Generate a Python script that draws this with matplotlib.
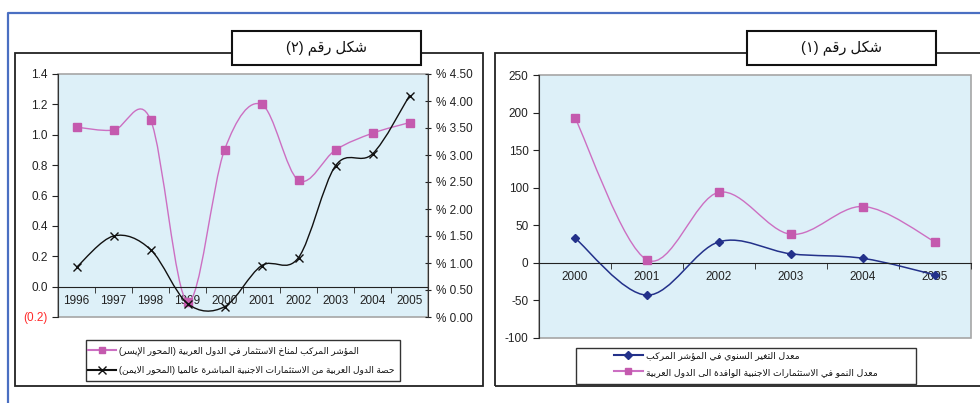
import numpy as np
import matplotlib.pyplot as plt
from matplotlib.path import Path
from matplotlib.patches import PathPatch, Rectangle
from matplotlib.lines import Line2D

plt.rcParams['font.family'] = ['Liberation Sans', 'DejaVu Sans']

# --- figure 2 (left panel) ---
years_2 = ['1996', '1997', '1998', '1999', '2000', '2001', '2002', '2003', '2004', '2005']
climate_index = [1.05, 1.03, 1.10, -0.10, 0.90, 1.20, 0.70, 0.90, 1.01, 1.08]
fdi_share = [0.92, 1.50, 1.25, 0.25, 0.19, 0.95, 1.10, 2.80, 3.02, 4.10]
index_ticks = [-0.2, 0.0, 0.2, 0.4, 0.6, 0.8, 1.0, 1.2, 1.4]
share_ticks = [0.0, 0.5, 1.0, 1.5, 2.0, 2.5, 3.0, 3.5, 4.0, 4.5]

# --- figure 1 (right panel) ---
years_1 = ['2000', '2001', '2002', '2003', '2004', '2005']
index_change = [33, -43, 28, 12, 6, -16]
fdi_growth = [193, 4, 94, 38, 75, 28]
growth_ticks = [-100, -50, 0, 50, 100, 150, 200, 250]

title_2 = 'شكل رقم (٢)'
title_1 = 'شكل رقم (١)'
legend_2 = ['المؤشر المركب لمناخ الاستثمار في الدول العربية (المحور الإيسر)',
            'حصة الدول العربية من الاستثمارات الاجنبية المباشرة عالميا (المحور الايمن)']
legend_1 = ['معدل التغير السنوي في المؤشر المركب',
            'معدل النمو في الاستثمارات الاجنبية الوافدة الى الدول العربية']

PINK = '#c45aae'
PINK_LINE = '#cc6fc2'
NAVY = '#23318a'
PLOT_BG = '#ddf0f8'
BORDER = '#a6a6a6'
TXT = '#222222'

# Arabic presentation forms: first code point and number of forms
# (4 = joins on both sides, 2 = joins to the right only, 1 = never joins)
FORMS = {
    'ء': (0xFE80, 1), 'آ': (0xFE81, 2), 'أ': (0xFE83, 2), 'ؤ': (0xFE85, 2),
    'إ': (0xFE87, 2), 'ئ': (0xFE89, 4), 'ا': (0xFE8D, 2), 'ب': (0xFE8F, 4),
    'ة': (0xFE93, 2), 'ت': (0xFE95, 4), 'ث': (0xFE99, 4), 'ج': (0xFE9D, 4),
    'ح': (0xFEA1, 4), 'خ': (0xFEA5, 4), 'د': (0xFEA9, 2), 'ذ': (0xFEAB, 2),
    'ر': (0xFEAD, 2), 'ز': (0xFEAF, 2), 'س': (0xFEB1, 4), 'ش': (0xFEB5, 4),
    'ص': (0xFEB9, 4), 'ض': (0xFEBD, 4), 'ط': (0xFEC1, 4), 'ظ': (0xFEC5, 4),
    'ع': (0xFEC9, 4), 'غ': (0xFECD, 4), 'ف': (0xFED1, 4), 'ق': (0xFED5, 4),
    'ك': (0xFED9, 4), 'ل': (0xFEDD, 4), 'م': (0xFEE1, 4), 'ن': (0xFEE5, 4),
    'ه': (0xFEE9, 4), 'و': (0xFEED, 2), 'ى': (0xFEEF, 2), 'ي': (0xFEF1, 4),
}
LAM_ALEF = {'آ': 0xFEF5, 'أ': 0xFEF7, 'إ': 0xFEF9, 'ا': 0xFEFB}
MIRROR = {'(': ')', ')': '('}


def dual(c):
    return c in FORMS and FORMS[c][1] == 4


def shape(text):
    out = []
    i = 0
    n = len(text)
    while i < n:
        c = text[i]
        if c not in FORMS:
            out.append(c)
            i += 1
            continue
        jp = i > 0 and dual(text[i - 1])
        if c == 'ل' and i + 1 < n and text[i + 1] in LAM_ALEF:
            out.append(chr(LAM_ALEF[text[i + 1]] + (1 if jp else 0)))
            i += 2
            continue
        start, cnt = FORMS[c]
        jn = cnt == 4 and i + 1 < n and text[i + 1] in FORMS
        if cnt == 1:
            code = start
        elif jp and jn:
            code = start + 3
        elif jp:
            code = start + 1
        elif jn:
            code = start + 2
        else:
            code = start
        out.append(chr(code))
        i += 1
    return ''.join(MIRROR.get(c, c) for c in reversed(out))


def smooth_path(xs, ys):
    # Catmull-Rom style Bezier through the points (spreadsheet "smoothed line")
    p = np.column_stack([xs, ys]).astype(float)
    n = len(p)
    verts = [p[0]]
    codes = [Path.MOVETO]
    for i in range(n - 1):
        p0 = p[max(i - 1, 0)]
        p1 = p[i]
        p2 = p[i + 1]
        p3 = p[min(i + 2, n - 1)]
        verts += [p1 + (p2 - p0) / 6, p2 - (p3 - p1) / 6, p2]
        codes += [Path.CURVE4] * 3
    return Path(verts, codes)


W, H = 980, 403


def fx(px):
    return px / W


def fy(py):
    return 1 - py / H


def px_rect(x0, y0, x1, y1):
    return (fx(x0), fy(y1)), fx(x1) - fx(x0), fy(y0) - fy(y1)


fig = plt.figure(figsize=(9.8, 4.03), dpi=100)


def style_plot_area(ax, n):
    ax.set_facecolor(PLOT_BG)
    ax.set_xlim(-0.5, n - 0.5)
    ax.set_xticks(range(n))
    ax.set_xticks(np.arange(-0.5, n, 1), minor=True)
    ax.tick_params(axis='x', which='major', length=0, pad=6, labelsize=8.5, labelcolor=TXT)
    ax.tick_params(axis='x', which='minor', length=4, direction='out', color='#222222')
    ax.tick_params(axis='y', length=4, direction='out', labelsize=8.5, labelcolor=TXT, color='#222222')
    for s in ['top', 'right']:
        ax.spines[s].set_visible(False)
    ax.spines['bottom'].set_position(('data', 0))
    ax.spines['bottom'].set_color('#222222')
    ax.spines['left'].set_color('#333333')
    ax.add_patch(Rectangle((0, 0), 1, 1, transform=ax.transAxes, fill=False,
                           ec=BORDER, lw=1.2, zorder=0.5, clip_on=False))


# left panel: composite index (left axis) and FDI share (right axis)
ax1 = fig.add_axes([fx(58), fy(317), fx(428) - fx(58), fy(74) - fy(317)])
style_plot_area(ax1, len(years_2))
ax1.set_xticklabels(years_2)
ax1.set_ylim(-0.2, 1.4)
ax1.set_yticks(index_ticks)
ax1.set_yticklabels(['(0.2)' if v < 0 else f'{v:.1f}' for v in index_ticks])
ax1.get_yticklabels()[0].set_color('#ff2a2a')
x2 = np.arange(len(years_2))
ax1.add_patch(PathPatch(smooth_path(x2, climate_index), fill=False, ec=PINK_LINE, lw=1.0, zorder=2))
ax1.plot(x2, climate_index, ls='none', marker='s', ms=5.5, mfc=PINK, mec=PINK, zorder=3)

ax2 = ax1.twinx()
ax2.set_ylim(0, 4.5)
ax2.set_yticks(share_ticks)
ax2.set_yticklabels([f'% {v:.2f}' for v in share_ticks])
ax2.tick_params(axis='y', length=5, direction='inout', labelsize=8.5, labelcolor=TXT, color='#222222')
for s in ['top', 'left', 'bottom']:
    ax2.spines[s].set_visible(False)
ax2.spines['right'].set_color('#333333')
ax2.add_patch(PathPatch(smooth_path(x2, fdi_share), fill=False, ec='#111111', lw=1.0, zorder=2))
ax2.plot(x2, fdi_share, ls='none', marker='x', ms=6, mew=1.0, color='#111111', zorder=3)

# right panel: annual change of the index and FDI inflow growth
ax3 = fig.add_axes([fx(539), fy(338), fx(971) - fx(539), fy(75) - fy(338)])
style_plot_area(ax3, len(years_1))
ax3.set_xticklabels(years_1)
ax3.set_ylim(-100, 250)
ax3.set_yticks(growth_ticks)
ax3.set_yticklabels([str(v) for v in growth_ticks])
x1 = np.arange(len(years_1))
ax3.add_patch(PathPatch(smooth_path(x1, fdi_growth), fill=False, ec=PINK_LINE, lw=1.0, zorder=2))
ax3.plot(x1, fdi_growth, ls='none', marker='s', ms=5.5, mfc=PINK, mec=PINK, zorder=3)
ax3.add_patch(PathPatch(smooth_path(x1, index_change), fill=False, ec=NAVY, lw=1.1, zorder=2))
ax3.plot(x1, index_change, ls='none', marker='D', ms=4.5, mfc=NAVY, mec=NAVY, zorder=3)

# page decorations: blue margin line, panel frames, caption boxes
fig.add_artist(Line2D([fx(8), fx(8), fx(985)], [fy(410), fy(13), fy(13)],
                      color='#4a6fc2', lw=1.6))
for x0, y0, x1_, y1_ in [(15, 53, 483, 386), (495, 53, 995, 386)]:
    xy, w, h = px_rect(x0, y0, x1_, y1_)
    fig.add_artist(Rectangle(xy, w, h, fill=False, ec='#222222', lw=1.3, zorder=1))

for (x0, x1_), title in [((232, 421), title_2), ((747, 936), title_1)]:
    xy, w, h = px_rect(x0, 31, x1_, 65)
    fig.add_artist(Rectangle(xy, w, h, fc='white', ec='#111111', lw=1.5, zorder=3))
    fig.text(fx((x0 + x1_) / 2), fy(48), shape(title), ha='center', va='center',
             fontsize=10.5, color='#111111', zorder=4)

# legends
for (box, anchor, handles, labels, spacing, size) in [
    ((86, 340, 400, 381), (88, 360.5),
     [Line2D([], [], color=PINK_LINE, marker='s', ms=5, mfc=PINK, mec=PINK),
      Line2D([], [], color='#111111', marker='x', ms=5.5, mew=1.0)],
     legend_2, 1.15, 6.5),
    ((576, 348, 916, 384), (614, 364),
     [Line2D([], [], color=NAVY, marker='D', ms=4, mfc=NAVY, mec=NAVY),
      Line2D([], [], color=PINK_LINE, marker='s', ms=5, mfc=PINK, mec=PINK)],
     legend_1, 0.8, 6.7),
]:
    xy, w, h = px_rect(*box)
    fig.add_artist(Rectangle(xy, w, h, fc='white', ec='#333333', lw=1.0, zorder=1))
    leg = fig.legend(handles, [shape(t) for t in labels], loc='center left',
                     bbox_to_anchor=(fx(anchor[0]), fy(anchor[1])), frameon=False,
                     fontsize=size, handlelength=3.1, handletextpad=0.3,
                     labelspacing=spacing, borderaxespad=0, borderpad=0)
    leg.set_zorder(2)
    for t in leg.get_texts():
        t.set_color('#111111')

fig.savefig('out.png', dpi=100)
